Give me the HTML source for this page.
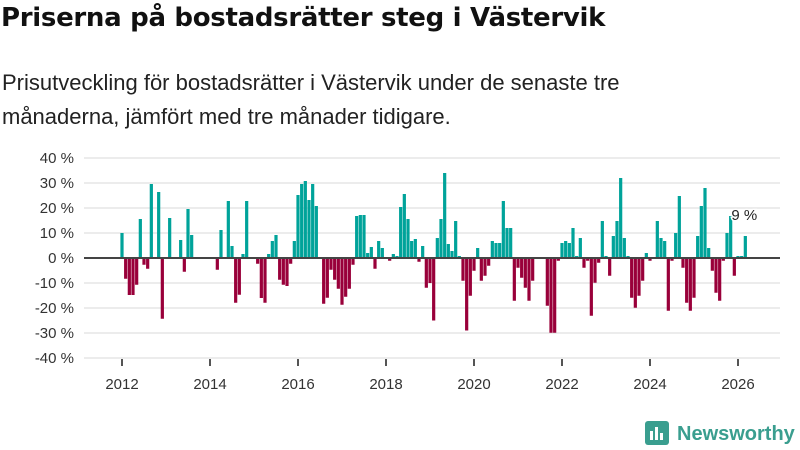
<!DOCTYPE html>
<html><head><meta charset="utf-8"><style>
body{margin:0;width:800px;height:450px;background:#fff;overflow:hidden;font-family:"Liberation Sans",sans-serif;}
#title{position:absolute;left:1px;top:3px;font-family:"DejaVu Sans",sans-serif;font-size:26px;font-weight:bold;color:#111;margin:0;letter-spacing:-0.3px;white-space:nowrap}
#sub{position:absolute;left:2px;top:66px;font-size:22px;color:#222;line-height:34px;width:660px}
svg{position:absolute;left:0;top:0}
</style></head><body>
<h1 id="title">Priserna på bostadsrätter steg i Västervik</h1>
<div id="sub">Prisutveckling för bostadsrätter i Västervik under de senaste tre månaderna, jämfört med tre månader tidigare.</div>
<svg id="chart" width="800" height="450"></svg>
<script>
const values=[10,-8.3,-14.8,-14.8,-10.7,15.6,-2.7,-4.3,29.6,0,26.4,-24.3,0,16,0,0,7.2,-5.5,19.6,9.2,0,0,0,0,0,0,-4.7,11.2,0,22.8,4.8,-17.9,-14.7,1.6,22.8,0,0,-2.3,-16,-17.9,1.6,6.8,9.2,-8.7,-10.7,-11.2,-2.3,6.8,25.2,29.6,30.8,23.2,29.6,20.8,0,-18.3,-15.9,-4.7,-8.7,-12.3,-18.7,-15.5,-12.3,-2.7,16.8,17.2,17.2,2,4.4,-4.3,6.8,4,0,-1.1,1.6,0.8,20.4,25.6,15.6,6.8,7.6,-1.5,4.8,-11.9,-10,-25,8,15.6,34,5.6,2.8,14.8,0.8,-9.1,-29,-15.1,-5.1,4,-9.1,-7.1,-3.1,6.8,6,6,22.8,12,12,-17.1,-3.9,-7.9,-11.9,-17.1,-9.1,0,0,0,-19.1,-29.9,-29.9,-1.1,6,6.8,6,12,0.8,8,-3.9,-1.1,-23.1,-9.9,-1.9,14.8,0.8,-7.1,8.8,14.8,32,8,0.8,-15.9,-19.9,-15.1,-9.1,2,-1.1,0,14.8,8,6.8,-21.1,-1.1,10,24.8,-3.9,-17.9,-21.1,-15.9,8.8,20.8,28,4,-5.1,-13.9,-17.1,-1.1,10,16.8,-7.1,0.8,0.8,8.8];
const startYear=2012;
const yTicks=[-40,-30,-20,-10,0,10,20,30,40];
const xTicks=[2012,2014,2016,2018,2020,2022,2024,2026];
const lastLabel="9 %";
const NS="http://www.w3.org/2000/svg";
const svg=document.getElementById('chart');
const x=t=>122+(t-2012)*44;
const y=v=>258-v*2.5;
function el(tag,attrs,parent){const e=document.createElementNS(NS,tag);for(const k in attrs)e.setAttribute(k,attrs[k]);(parent||svg).appendChild(e);return e;}
yTicks.forEach(v=>{
  const g=el('line',{x1:84,x2:780,y1:y(v),y2:y(v),stroke:'#e0e0e0','stroke-width':1.3});
  
  
  const t=el('text',{x:74,y:y(v)+5,'text-anchor':'end','font-size':15,fill:'#333','font-family':'Liberation Sans, sans-serif'});
  t.textContent=v+' %';
  
  
});
xTicks.forEach(yr=>{
  const l=el('line',{x1:x(yr),x2:x(yr),y1:359,y2:366,stroke:'#555','stroke-width':2});
  
  
  const t=el('text',{x:x(yr),y:389,'text-anchor':'middle','font-size':15,fill:'#333','font-family':'Liberation Sans, sans-serif'});
  t.textContent=yr;
  
  
});
values.forEach((v,i)=>{
  const cx=x(startYear+i/12);
  const r=el('rect',{x:cx-1.6,width:3.2,y:Math.min(y(v),y(0)),height:Math.abs(y(v)-y(0)),fill:v>=0?'#00a39a':'#99003a'});
  
  
});
const z=el('line',{x1:84,x2:780,y1:y(0),y2:y(0),stroke:'#444','stroke-width':2});


const li=values.length-1;
const lb=el('text',{x:x(startYear+li/12)-1,y:y(values[li])-16,'text-anchor':'middle','font-size':15,fill:'#222',stroke:'#fff','stroke-width':3,'paint-order':'stroke','font-family':'Liberation Sans, sans-serif'});
lb.textContent=lastLabel;


const logo=el('g',{});


el('rect',{x:645,y:421,width:24,height:24,rx:3,fill:'#3a9e8f'},logo);
el('rect',{x:650,y:431,width:3,height:9,fill:'#fff'},logo);
el('rect',{x:655,y:427,width:3,height:13,fill:'#fff'},logo);
el('rect',{x:660,y:433,width:3,height:7,fill:'#fff'},logo);
const lt=el('text',{x:677,y:440,'font-size':20,'font-weight':'bold',fill:'#3a9e8f','font-family':'Liberation Sans, sans-serif'},logo);
lt.textContent='Newsworthy';
</script>
</body></html>
